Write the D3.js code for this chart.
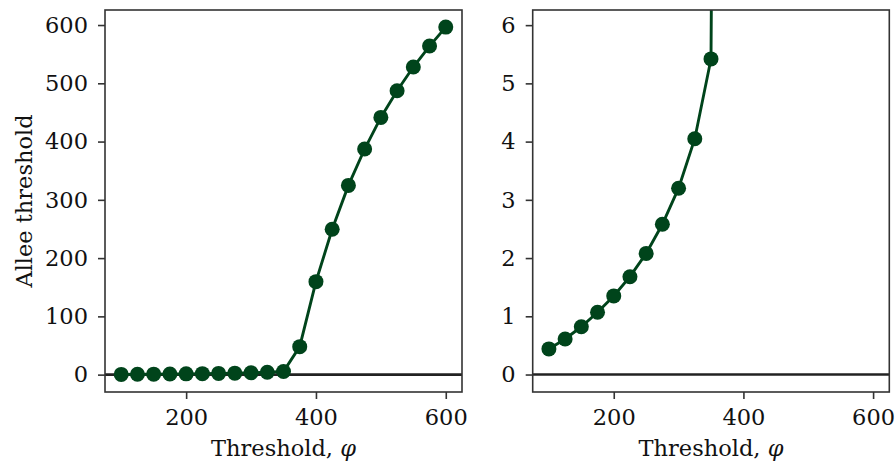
<!DOCTYPE html>
<html><head><meta charset="utf-8">
<script src="https://cdn.jsdelivr.net/npm/d3@7"></script>
<style>body{margin:0;background:#fff}svg{display:block}text{font-family:"DejaVu Serif",serif;fill:#111}</style>
</head><body><svg id="c" width="896" height="464"></svg>
<script>
const thresholds = [100,125,150,175,200,225,250,275,300,325,350,375,400,425,450,475,500,525,550,575,600];
const alleeValues = [0.44,0.61,0.82,1.07,1.35,1.68,2.08,2.58,3.20,4.05,5.42,48.0,159.6,249.4,324.8,387.2,441.5,487.3,527.9,563.9,596.5];
const xTicks = [200,400,600];
const yTicksLeft = [0,100,200,300,400,500,600];
const yTicksRight = [0,1,2,3,4,5,6];
const xDomain = [75,625];
const yDomainLeft = [-29.8,625.8];
const yDomainRight = [-0.3,6.26];

const svg = d3.select("#c");
const green = "#00441b";
const fs = "22.5px";
const data = thresholds.map((t,i)=>({x:t,y:alleeValues[i]}));

function panel(left,right,yDomain,yTicks,showYLabel,id){
  const top=10,bottom=392;
  const x=d3.scaleLinear().domain(xDomain).range([left,right]);
  const y=d3.scaleLinear().domain(yDomain).range([bottom,top]);
  svg.append("clipPath").attr("id",id).append("rect").attr("x",left).attr("y",top).attr("width",right-left).attr("height",bottom-top);
  const g=svg.append("g").attr("clip-path",`url(#${id})`);
  g.append("line").attr("x1",left).attr("x2",right).attr("y1",y(0)).attr("y2",y(0)).attr("stroke","#222").attr("stroke-width",2.6);
  g.append("path").datum(data).attr("fill","none").attr("stroke",green).attr("stroke-width",2.9)
    .attr("d",d3.line().x(d=>x(d.x)).y(d=>y(d.y)));
  g.selectAll("circle").data(data).join("circle").attr("cx",d=>x(d.x)).attr("cy",d=>y(d.y)).attr("r",7.5).attr("fill",green);
  const xa=svg.append("g").attr("transform",`translate(0,${bottom})`).call(d3.axisBottom(x).tickValues(xTicks).tickSize(7).tickPadding(10).tickFormat(d3.format("d")));
  const ya=svg.append("g").attr("transform",`translate(${left},0)`).call(d3.axisLeft(y).tickValues(yTicks).tickSize(7).tickPadding(10).tickFormat(d3.format("d")));
  [xa,ya].forEach(a=>{a.select(".domain").remove();a.selectAll("line").attr("stroke","#333").attr("stroke-width",1.6);a.selectAll("text").style("font-size",fs).attr("fill","#111");});
  svg.append("rect").attr("x",left).attr("y",top).attr("width",right-left).attr("height",bottom-top).attr("fill","none").attr("stroke","#333").attr("stroke-width",1.6);
  const xl=svg.append("text").attr("x",(left+right)/2).attr("y",456).attr("text-anchor","middle").style("font-size",fs);
  xl.append("tspan").text("Threshold, ");
  xl.append("tspan").attr("font-style","italic").text("φ");
  if(showYLabel){
    svg.append("text").attr("transform",`translate(31.5,${(top+bottom)/2}) rotate(-90)`).attr("text-anchor","middle").style("font-size",fs).text("Allee threshold");
  }
}
panel(105,462,yDomainLeft,yTicksLeft,true,"cl");
panel(532.7,889.3,yDomainRight,yTicksRight,false,"cr");
</script></body></html>
